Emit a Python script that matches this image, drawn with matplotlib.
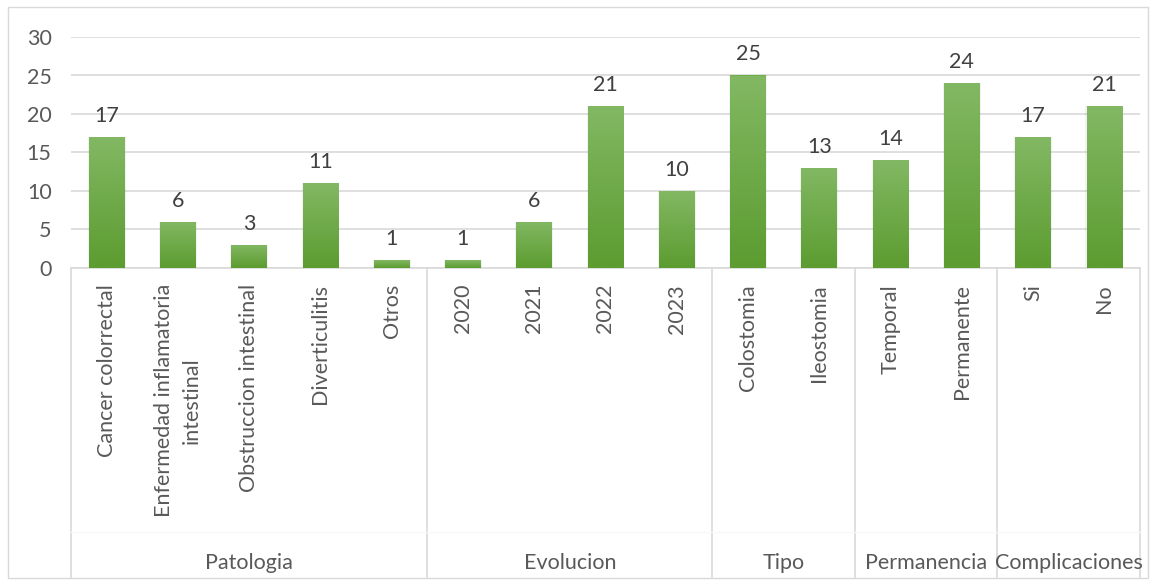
import numpy as np
import matplotlib
matplotlib.use('Agg')
import matplotlib.pyplot as plt
from matplotlib.patches import Rectangle
from matplotlib.lines import Line2D

plt.rcParams['font.family'] = ['Lato', 'DejaVu Sans']

# data
groups = ['Patologia', 'Evolucion', 'Tipo', 'Permanencia', 'Complicaciones']
group_sizes = [5, 4, 2, 2, 2]
categories = ['Cancer colorrectal', 'Enfermedad inflamatoria\nintestinal',
              'Obstruccion intestinal', 'Diverticulitis', 'Otros',
              '2020', '2021', '2022', '2023',
              'Colostomia', 'Ileostomia',
              'Temporal', 'Permanente',
              'Si', 'No']
values = [17, 6, 3, 11, 1, 1, 6, 21, 10, 25, 13, 14, 24, 17, 21]

W, H = 1153, 585
fig = plt.figure(figsize=(W / 100, H / 100), dpi=100)
fs = 15.5

# plot area in pixels
x0, x1 = 71, 1140
y_top, y_zero = 37, 268
ax = fig.add_axes([x0 / W, 1 - y_zero / H, (x1 - x0) / W, (y_zero - y_top) / H])
axh = y_zero - y_top

# outer chart border
fig.patches.append(Rectangle((8 / W, 1 - 578 / H), 1140 / W, 571 / H, transform=fig.transFigure,
                             fill=False, edgecolor='#d9d9d9', linewidth=1))

n = len(values)
xs = np.arange(n) + 0.5
bars = ax.bar(xs, values, width=0.5, color='#70ad47', zorder=3)

# vertical gradient fill like Excel
grad = np.linspace(0, 1, 100).reshape(-1, 1)
top_c = np.array([0x82, 0xb8, 0x63]) / 255
bot_c = np.array([0x5c, 0x9c, 0x30]) / 255
img = (top_c * grad[..., None] + bot_c * (1 - grad[..., None]))
for b in bars:
    bx, bw, bh = b.get_x(), b.get_width(), b.get_height()
    # soft shadow
    ax.add_patch(Rectangle((bx - 0.015, -0.1), bw + 0.03, bh + 0.1, facecolor='#000000', alpha=0.05,
                           edgecolor='none', zorder=2))
    im = ax.imshow(img, extent=[bx, bx + bw, 0, bh], origin='lower', aspect='auto', zorder=4)
    im.set_clip_path(b)
    ax.annotate(str(int(bh)), (bx + bw / 2, bh), xytext=(0, 8), textcoords='offset points',
                ha='center', va='bottom', fontsize=fs, color='#404040')

ax.set_xlim(0, n)
ax.set_ylim(0, 30)
ax.set_yticks(range(0, 31, 5))
ax.yaxis.grid(True, color='#d9d9d9', linewidth=1.2, zorder=0)
ax.set_axisbelow(True)
for s in ['top', 'right', 'left']:
    ax.spines[s].set_visible(False)
ax.spines['bottom'].set_color('#d9d9d9')
ax.spines['bottom'].set_linewidth(1.2)
ax.tick_params(axis='y', length=0, labelsize=fs, labelcolor='#595959', pad=14)
ax.set_xticks([])

tr = ax.get_xaxis_transform()
# category labels
for x, lab in zip(xs, categories):
    ax.text(x, -(284 - y_zero) / axh, lab, transform=tr, rotation=90, ha='center', va='top',
            multialignment='center', fontsize=fs, color='#595959', linespacing=1.45)

# group dividers and labels
bounds = np.concatenate([[0], np.cumsum(group_sizes)])
bottom = -(577 - y_zero) / axh
for b in bounds:
    ax.add_line(Line2D([b, b], [0, bottom], transform=tr, color='#d9d9d9', linewidth=1.2,
                       clip_on=False))
ax.add_line(Line2D([0, n], [-(532 - y_zero) / axh] * 2, transform=tr, color='#f8f8f8',
                   linewidth=1, clip_on=False))
for g, a, b in zip(groups, bounds[:-1], bounds[1:]):
    ax.text((a + b) / 2, -(563 - y_zero) / axh, g, transform=tr, ha='center', va='center',
            fontsize=fs, color='#595959')

fig.savefig('out.png', dpi=100)
